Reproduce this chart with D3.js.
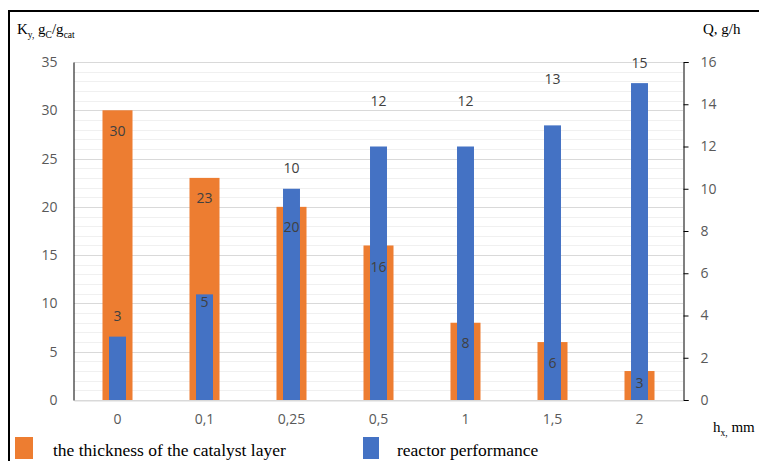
<!DOCTYPE html>
<html>
<head>
<meta charset="utf-8">
<script src="https://cdn.jsdelivr.net/npm/d3@7"></script>
<style>
  html, body { margin: 0; padding: 0; background: #fff; }
  svg { display: block; }
</style>
</head>
<body>
<svg id="chart" width="759" height="461"></svg>
<script>
// Catalyst layer thickness h_x (mm)
const categories = ["0", "0,1", "0,25", "0,5", "1", "1,5", "2"];
// K_y, g_C/g_cat (left axis)
const thickness = [30, 23, 20, 16, 8, 6, 3];
// Q, g/h (right axis)
const performance = [3, 5, 10, 12, 12, 13, 15];
const leftTicks = [0, 5, 10, 15, 20, 25, 30, 35];
const rightTicks = [0, 2, 4, 6, 8, 10, 12, 14, 16];
const minorTicks = d3.range(0, 36, 1);

// label placement (pixels from the bar top)
const thicknessLabelDy = [20, 20, 20, 21, 20, 20, 11];
const performanceLabelDy = [-21, 7, -21, -46, -46, -47, -21];

const svg = d3.select("#chart");
const plot = { left: 74, right: 683, top: 62, bottom: 400 };

const x = d3.scaleBand().domain(categories)
  .range([plot.left, plot.right]).paddingInner(0.655).paddingOuter(0.3275);
const xBlue = d3.scaleBand().domain(categories)
  .range([plot.left, plot.right]).paddingInner(0.805).paddingOuter(0.4025);
const yL = d3.scaleLinear().domain([0, 35]).range([plot.bottom, plot.top]);
const yR = d3.scaleLinear().domain([0, 16]).range([plot.bottom, plot.top]);

const orange = "#ED7D31", blue = "#4472C4";
const sans = "'Open Sans', 'Liberation Sans', sans-serif";
const serif = "'Liberation Serif', 'DejaVu Serif', serif";

// outer frame
svg.append("rect").attr("x", 9).attr("y", 11).attr("width", 800).attr("height", 500)
  .attr("fill", "none").attr("stroke", "#000").attr("stroke-width", 2);

// gridlines: minor every 1, major every 5
svg.append("g").selectAll("line").data(minorTicks.filter(d => d % 5 !== 0)).join("line")
  .attr("x1", plot.left).attr("x2", plot.right)
  .attr("y1", d => Math.round(yL(d)) + 0.5).attr("y2", d => Math.round(yL(d)) + 0.5)
  .attr("stroke", "#f0f0f0").attr("stroke-width", 1);
svg.append("g").selectAll("line").data(leftTicks).join("line")
  .attr("x1", plot.left).attr("x2", plot.right)
  .attr("y1", d => Math.round(yL(d)) + 0.5).attr("y2", d => Math.round(yL(d)) + 0.5)
  .attr("stroke", "#d9d9d9").attr("stroke-width", 1);

// primary series
svg.append("g").selectAll("rect").data(thickness).join("rect")
  .attr("x", (d, i) => x(categories[i])).attr("width", x.bandwidth())
  .attr("y", d => yL(d)).attr("height", d => yL(0) - yL(d))
  .attr("fill", orange);

// secondary series, drawn on top
svg.append("g").selectAll("rect").data(performance).join("rect")
  .attr("x", (d, i) => xBlue(categories[i])).attr("width", xBlue.bandwidth())
  .attr("y", d => yR(d)).attr("height", d => yR(0) - yR(d))
  .attr("fill", blue);

// data labels
svg.append("g").selectAll("text").data(thickness).join("text")
  .attr("x", (d, i) => x(categories[i]) + x.bandwidth() / 2)
  .attr("y", (d, i) => yL(d) + thicknessLabelDy[i])
  .attr("text-anchor", "middle").attr("dominant-baseline", "central")
  .attr("font-family", sans).attr("font-size", 14).attr("fill", "#404040")
  .text(d => d);
svg.append("g").selectAll("text").data(performance).join("text")
  .attr("x", (d, i) => xBlue(categories[i]) + xBlue.bandwidth() / 2)
  .attr("y", (d, i) => yR(d) + performanceLabelDy[i])
  .attr("text-anchor", "middle").attr("dominant-baseline", "central")
  .attr("font-family", sans).attr("font-size", 14).attr("fill", "#404040")
  .text(d => d);

// left axis
const gL = svg.append("g").attr("transform", `translate(${plot.left - 0.5},0)`)
  .call(d3.axisLeft(yL).tickValues(leftTicks).tickSize(0).tickPadding(16));
gL.select(".domain").attr("stroke", "#000");
gL.selectAll("text").attr("font-family", sans).attr("font-size", 14).attr("fill", "#595959");

// right axis
const gR = svg.append("g").attr("transform", `translate(${plot.right + 0.5},0)`)
  .call(d3.axisRight(yR).tickValues(rightTicks).tickSize(5).tickSizeOuter(5).tickPadding(12));
gR.selectAll(".domain, line").attr("stroke", "#000");
gR.selectAll("text").attr("font-family", sans).attr("font-size", 14).attr("fill", "#595959");

// category axis
const gX = svg.append("g").attr("transform", `translate(0,${plot.bottom + 0.5})`)
  .call(d3.axisBottom(x).tickSize(0).tickPadding(14));
gX.select(".domain").attr("stroke", "#d9d9d9");
gX.selectAll("text").attr("font-family", sans).attr("font-size", 14).attr("fill", "#595959");

// axis titles
function title(xp, yp, parts) {
  const t = svg.append("text").attr("x", xp).attr("y", yp)
    .attr("font-family", serif).attr("font-size", 15).attr("fill", "#000");
  parts.forEach(([s, sub]) => {
    const ts = t.append("tspan").text(s);
    if (sub) ts.attr("font-size", 9.5).attr("baseline-shift", "-3.5");
  });
}
title(17, 34, [["K"], ["y,", 1], [" g"], ["C", 1], ["/g"], ["cat", 1]]);
title(703, 34, [["Q, g/h"]]);
title(713, 432, [["h"], ["x,", 1], [" mm"]]);

// legend
const legend = [
  { label: "the thickness of the catalyst layer", color: orange, x: 15, w: 18, gap: 38 },
  { label: "reactor performance", color: blue, x: 363, w: 16, gap: 34 }
];
const lg = svg.append("g").selectAll("g").data(legend).join("g");
lg.append("rect").attr("x", d => d.x).attr("y", 437).attr("width", d => d.w).attr("height", 22)
  .attr("fill", d => d.color);
lg.append("text").attr("x", d => d.x + d.gap).attr("y", 456)
  .attr("font-family", serif).attr("font-size", 17.5).attr("fill", "#000")
  .text(d => d.label);
</script>
</body>
</html>
